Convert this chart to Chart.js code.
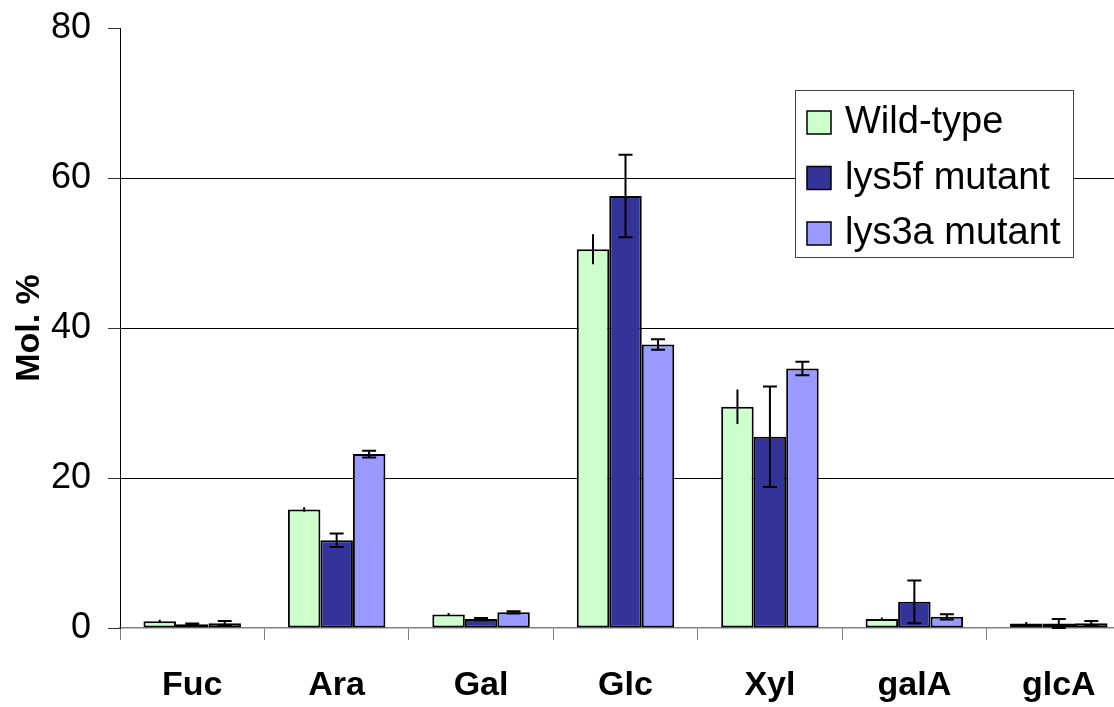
<!DOCTYPE html>
<html>
<head>
<meta charset="utf-8">
<script src="https://cdn.jsdelivr.net/npm/chart.js@4/dist/chart.umd.min.js"></script>
<style>
  html, body { margin: 0; padding: 0; background: #fff; overflow: hidden; }
  #wrap { width: 1132px; height: 707px; position: relative; }
</style>
</head>
<body>
<div id="wrap"><canvas id="c"></canvas></div>
<script>
// Monosaccharide composition (Mol. %), mean and error for each line
const sugars = ['Fuc', 'Ara', 'Gal', 'Glc', 'Xyl', 'galA', 'glcA'];
const wildType = [0.9, 15.8, 1.8, 50.5, 29.5, 1.2, 0.6];
const wildTypeErr = [0.2, 0.3, 0.2, 2.0, 2.3, 0.2, 0.2];
const lys5f = [0.5, 11.7, 1.2, 57.6, 25.5, 3.5, 0.6];
const lys5fErr = [0.1, 0.9, 0.15, 5.5, 6.7, 2.85, 0.6];
const lys3a = [0.65, 23.2, 2.1, 37.8, 34.6, 1.5, 0.65];
const lys3aErr = [0.3, 0.45, 0.15, 0.7, 0.9, 0.35, 0.3];
const yTicks = [0, 20, 40, 60, 80];

const FONT = "'Liberation Sans', Arial, sans-serif";

// Vertical error bars drawn over each bar; Wild-type bars have no caps
const errorBars = {
  id: 'errorBars',
  afterDatasetsDraw(chart) {
    const ctx = chart.ctx;
    const y = chart.scales.y;
    chart.data.datasets.forEach((ds, di) => {
      const meta = chart.getDatasetMeta(di);
      meta.data.forEach((bar, i) => {
        const v = ds.data[i], e = ds.errors[i];
        const top = y.getPixelForValue(v + e);
        const bot = y.getPixelForValue(Math.max(v - e, 0));
        ctx.save();
        ctx.strokeStyle = '#000';
        ctx.lineWidth = 2;
        ctx.beginPath();
        ctx.moveTo(bar.x, top);
        ctx.lineTo(bar.x, bot);
        if (ds.caps) {
          ctx.moveTo(bar.x - 7, top);
          ctx.lineTo(bar.x + 7, top);
          ctx.moveTo(bar.x - 7, bot);
          ctx.lineTo(bar.x + 7, bot);
        }
        ctx.stroke();
        ctx.restore();
      });
    });
  }
};

// Boxed legend placed inside the plot, top right
const boxLegend = {
  id: 'boxLegend',
  afterDraw(chart) {
    const ctx = chart.ctx;
    const x0 = 795, y0 = 90, w = 278, h = 167;
    ctx.save();
    ctx.fillStyle = '#fff';
    ctx.fillRect(x0, y0, w, h);
    ctx.strokeStyle = '#444';
    ctx.lineWidth = 1;
    ctx.strokeRect(x0 + 0.5, y0 + 0.5, w, h);
    ctx.font = '38px ' + FONT;
    ctx.textBaseline = 'middle';
    ctx.textAlign = 'left';
    chart.data.datasets.forEach((ds, i) => {
      const cy = y0 + 32 + i * 55.5;
      ctx.fillStyle = ds.backgroundColor;
      ctx.fillRect(807, cy - 11, 24, 23);
      ctx.strokeStyle = '#000';
      ctx.lineWidth = 1.5;
      ctx.strokeRect(807, cy - 11, 24, 23);
      ctx.fillStyle = '#000';
      ctx.fillText(ds.label, 845, cy + 1);
    });
    ctx.restore();
  }
};

new Chart(document.getElementById('c'), {
  type: 'bar',
  data: {
    labels: sugars,
    datasets: [
      { label: 'Wild-type', data: wildType, errors: wildTypeErr, caps: false,
        backgroundColor: '#CCFFCC', borderColor: '#000', borderWidth: 2, borderSkipped: false },
      { label: 'lys5f mutant', data: lys5f, errors: lys5fErr, caps: true,
        backgroundColor: '#333399', borderColor: '#000', borderWidth: 2, borderSkipped: false },
      { label: 'lys3a mutant', data: lys3a, errors: lys3aErr, caps: true,
        backgroundColor: '#9999FF', borderColor: '#000', borderWidth: 2, borderSkipped: false }
    ]
  },
  options: {
    responsive: true,
    maintainAspectRatio: false,
    animation: false,
    layout: { padding: { top: 28, right: 1, left: 0, bottom: 0 } },
    datasets: { bar: { categoryPercentage: 0.675, barPercentage: 1.0 } },
    plugins: { legend: { display: false }, tooltip: { enabled: false } },
    scales: {
      x: {
        afterFit(s) { s.height = 79; s.paddingLeft = 0; s.paddingRight = 0; },
        grid: {
          offset: true,
          drawOnChartArea: false,
          tickLength: 12,
          color: '#808080',
          lineWidth: 1
        },
        border: { color: '#808080', width: 1.5 },
        ticks: {
          color: '#000',
          padding: 25,
          font: { family: FONT, size: 34, weight: 'bold' }
        }
      },
      y: {
        min: 0,
        max: 80,
        afterFit(s) { s.width = 120; s.paddingTop = 0; s.paddingBottom = 0; },
        afterBuildTicks(s) { s.ticks = yTicks.map(v => ({ value: v })); },
        grid: {
          tickLength: 12,
          color: c => (c.tick && (c.tick.value === 0 || c.tick.value === 80)) ? 'rgba(0,0,0,0)' : '#000',
          tickColor: '#333',
          lineWidth: 1
        },
        border: { color: '#000', width: 1 },
        ticks: {
          color: '#000',
          padding: 17,
          font: { family: FONT, size: 36 }
        },
        title: {
          display: true,
          text: 'Mol. %',
          color: '#000',
          padding: { top: 9, bottom: 0 },
          font: { family: FONT, size: 34, weight: 'bold' }
        }
      }
    }
  },
  plugins: [errorBars, boxLegend]
});
</script>
</body>
</html>
